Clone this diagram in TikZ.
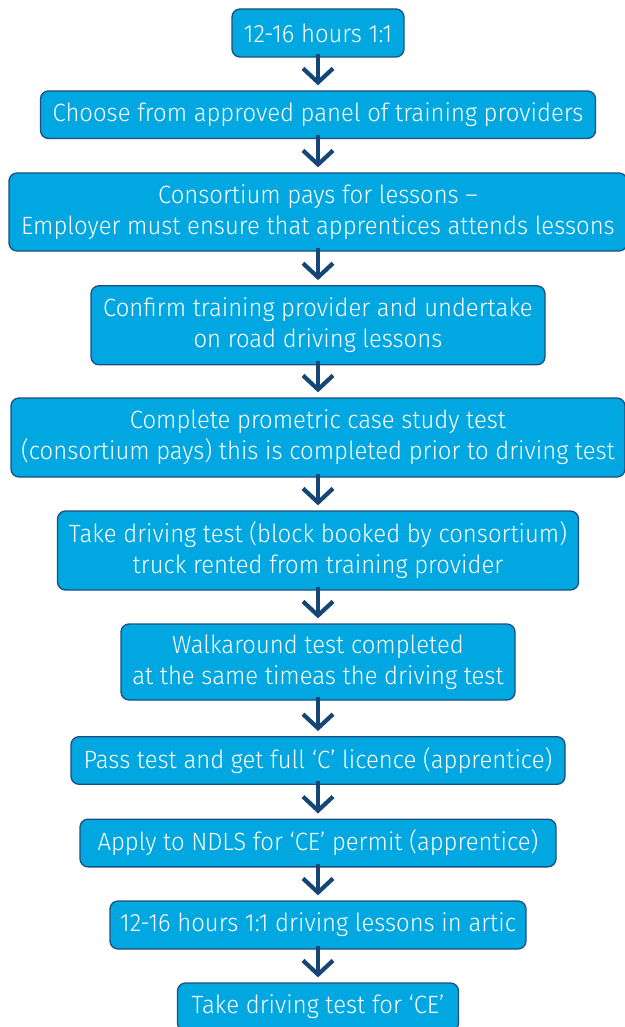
\documentclass[tikz,border=0pt]{standalone}
\usepackage{fontspec}
\setmainfont{Fira Sans Light}[FakeStretch=0.955]
\usetikzlibrary{arrows.meta}
\definecolor{boxfill}{RGB}{0,167,224}
\definecolor{boxline}{RGB}{28,78,128}
\definecolor{arrowcol}{RGB}{22,70,118}
\tikzset{
  stepbox/.style={draw=boxline, line width=1.3pt, fill=boxfill, rounded corners=8pt,
    text=white, align=center, inner sep=0pt,
    font=\fontsize{25}{31}\selectfont},
  flow/.style={draw=arrowcol, line width=4.2pt,
    -{Straight Barb[length=14pt,width=30pt]}, shorten >=5pt}
}
\begin{document}
\begin{tikzpicture}[x=1pt,y=-1pt]
\useasboundingbox (0,0) rectangle (624,1027);
\node[stepbox, minimum width=172pt, minimum height=48pt] (b1) at (318,33) {12-16 hours 1:1};
\node[stepbox, minimum width=555pt, minimum height=47.5pt] (b2) at (318,114.7) {Choose from approved panel of training providers};
\node[stepbox, minimum width=618pt, minimum height=78pt] (b3) at (318,212) {Consortium pays for lessons –\\Employer must ensure that apprentices attends lessons};
\node[stepbox, minimum width=454pt, minimum height=79pt] (b4) at (318,325.3) {Confirm training provider and undertake\\on road driving lessons};
\node[stepbox, minimum width=614pt, minimum height=79pt] (b5) at (318,437.5) {Complete prometric case study test\\(consortium pays) this is completed prior to driving test};
\node[stepbox, minimum width=521pt, minimum height=79pt] (b6) at (318,550.5) {Take driving test (block booked by consortium)\\truck rented from training provider};
\node[stepbox, minimum width=394pt, minimum height=76pt] (b7) at (318,662) {Walkaround test completed\\at the same timeas the driving test};
\node[stepbox, minimum width=494pt, minimum height=47.6pt] (b8) at (318,760.5) {Pass test and get full ‘C’ licence (apprentice)};
\node[stepbox, minimum width=476pt, minimum height=47.7pt] (b9) at (318,843) {Apply to NDLS for ‘CE’ permit (apprentice)};
\node[stepbox, minimum width=416pt, minimum height=48pt] (b10) at (318,925) {12-16 hours 1:1 driving lessons in artic};
\node[stepbox, minimum width=281pt, minimum height=48pt] (b11) at (318,1007) {Take driving test for ‘CE’};
\foreach \a/\b in {b1/b2,b2/b3,b3/b4,b4/b5,b5/b6,b6/b7,b7/b8,b8/b9,b9/b10,b10/b11}
  \draw[flow] ([yshift=4pt]\a.south) -- (\b.north);
\end{tikzpicture}
\end{document}
